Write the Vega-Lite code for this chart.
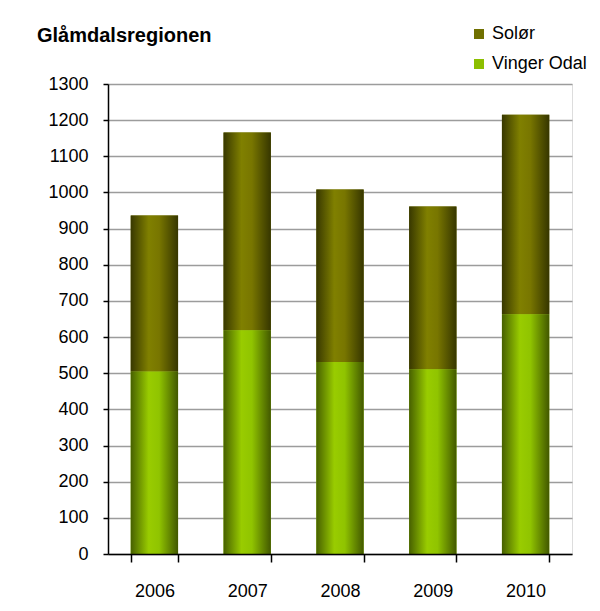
{
  "$schema": "https://vega.github.io/schema/vega-lite/v6.json",
  "width": 464,
  "height": 470,
  "autosize": {"type": "none"},
  "padding": {"left": 108, "top": 84, "right": 28, "bottom": 57},
  "background": "white",
  "title": {
    "text": "Glåmdalsregionen",
    "anchor": "start",
    "frame": "group",
    "dx": -71,
    "offset": -37,
    "baseline": "alphabetic",
    "font": "Liberation Sans",
    "fontSize": 20,
    "fontWeight": "bold",
    "color": "black"
  },
  "data": {
    "values": [
      {"year": "2006", "series": "Vinger Odal", "value": 505},
      {"year": "2006", "series": "Solør", "value": 431},
      {"year": "2007", "series": "Vinger Odal", "value": 619},
      {"year": "2007", "series": "Solør", "value": 547},
      {"year": "2008", "series": "Vinger Odal", "value": 531},
      {"year": "2008", "series": "Solør", "value": 477},
      {"year": "2009", "series": "Vinger Odal", "value": 511},
      {"year": "2009", "series": "Solør", "value": 450},
      {"year": "2010", "series": "Vinger Odal", "value": 663},
      {"year": "2010", "series": "Solør", "value": 552}
    ]
  },
  "transform": [
    {"stack": "value", "groupby": ["year"], "sort": [{"field": "series", "order": "descending"}], "as": ["v0", "v1"]}
  ],
  "encoding": {
    "x": {
      "field": "year", "type": "nominal",
      "scale": {"paddingInner": 0.49, "paddingOuter": 0.245},
      "axis": {
        "title": null, "labelAngle": 0, "tickBand": "extent",
        "domainColor": "black", "domainWidth": 1.5, "tickColor": "black", "tickWidth": 1.5, "tickSize": 8,
        "labelPadding": 20, "labelFont": "Liberation Sans", "labelFontSize": 18, "labelColor": "black",
        "zindex": 1
      }
    },
    "y": {
      "field": "v1", "type": "quantitative",
      "scale": {"domain": [0, 1300], "nice": false},
      "axis": {
        "title": null, "format": "d", "values": [0,100,200,300,400,500,600,700,800,900,1000,1100,1200,1300],
        "domainColor": "black", "domainWidth": 1.5, "tickColor": "black", "tickWidth": 1.5, "tickSize": 5,
        "gridColor": "#9c9c9c", "gridWidth": 1.5,
        "labelPadding": 15, "labelFont": "Liberation Sans", "labelFontSize": 18, "labelColor": "black"
      }
    },
    "y2": {"field": "v0"}
  },
  "layer": [
    {
      "mark": {"type": "bar"},
      "encoding": {
        "color": {
          "field": "series", "type": "nominal",
          "scale": {"domain": ["Solør", "Vinger Odal"], "range": ["#707000", "#8cbf00"]},
          "legend": {
            "title": null, "orient": "none", "legendX": 362, "legendY": -59,
            "symbolType": "square", "symbolSize": 100, "symbolStrokeWidth": 0,
            "labelFont": "Liberation Sans", "labelFontSize": 18, "labelColor": "black",
            "labelOffset": 4, "rowPadding": 12, "padding": 0, "labelLimit": 300
          }
        }
      }
    },
    {
      "transform": [{"filter": "datum.series === 'Solør'"}],
      "mark": {
        "type": "bar",
        "fill": {
          "gradient": "linear", "x1": 0, "y1": 0, "x2": 1, "y2": 0,
          "stops": [
            {"offset": 0, "color": "#383800"},
            {"offset": 0.38, "color": "#808000"},
            {"offset": 0.6, "color": "#787600"},
            {"offset": 1, "color": "#363600"}
          ]
        }
      },
      "encoding": {}
    },
    {
      "transform": [{"filter": "datum.series === 'Vinger Odal'"}],
      "mark": {
        "type": "bar",
        "fill": {
          "gradient": "linear", "x1": 0, "y1": 0, "x2": 1, "y2": 0,
          "stops": [
            {"offset": 0, "color": "#476000"},
            {"offset": 0.38, "color": "#99cc00"},
            {"offset": 0.6, "color": "#90c400"},
            {"offset": 1, "color": "#425800"}
          ]
        }
      },
      "encoding": {}
    }
  ]
}
